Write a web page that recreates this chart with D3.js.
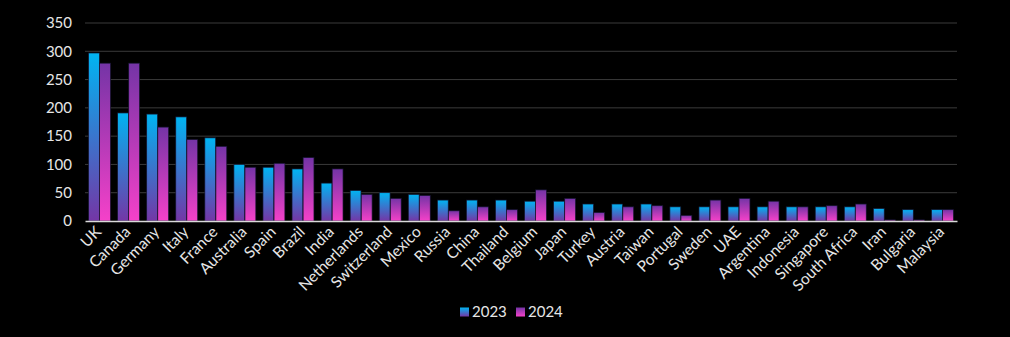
<!DOCTYPE html>
<html>
<head>
<meta charset="utf-8">
<script src="https://cdn.jsdelivr.net/npm/d3@7"></script>
<style>
  body { margin: 0; background: #000; }
  svg { display: block; }
</style>
</head>
<body>
<svg id="chart" width="1010" height="337"></svg>
<script>
const countries = ["UK", "Canada", "Germany", "Italy", "France", "Australia", "Spain", "Brazil", "India",
  "Netherlands", "Switzerland", "Mexico", "Russia", "China", "Thailand", "Belgium", "Japan", "Turkey",
  "Austria", "Taiwan", "Portugal", "Sweden", "UAE", "Argentina", "Indonesia", "Singapore", "South Africa",
  "Iran", "Bulgaria", "Malaysia"];
const values2023 = [297, 191, 189, 184, 147, 100, 95, 92, 67, 54, 50, 47, 37, 37, 37, 35, 35, 30,
  30, 30, 25, 25, 25, 25, 25, 25, 25, 22, 20, 20];
const values2024 = [279, 279, 166, 144, 132, 95, 102, 112, 92, 47, 40, 45, 18, 25, 20, 55, 40, 15,
  25, 27, 10, 37, 40, 35, 25, 27, 30, 2, 2, 20];
const seriesNames = ["2023", "2024"];
const yTicks = [0, 50, 100, 150, 200, 250, 300, 350];

const svg = d3.select("#chart");
const font = "Lato, 'DejaVu Sans', sans-serif";

// plot area
const margin = { top: 23, right: 53, bottom: 116, left: 85 };
const width = +svg.attr("width");
const height = +svg.attr("height");
const innerWidth = width - margin.left - margin.right;
const innerHeight = height - margin.top - margin.bottom;

// gradients for the two series
const defs = svg.append("defs");
const gradStops = [["#00b4f2", "#7436a6"], ["#7434a6", "#f541c9"]];
gradStops.forEach((c, i) => {
  const gr = defs.append("linearGradient")
    .attr("id", "grad" + i)
    .attr("x1", 0).attr("y1", 0).attr("x2", 0).attr("y2", 1);
  gr.append("stop").attr("offset", "0%").attr("stop-color", c[0]);
  gr.append("stop").attr("offset", "100%").attr("stop-color", c[1]);
});

const g = svg.append("g").attr("transform", `translate(${margin.left},${margin.top})`);

const x = d3.scaleBand().domain(countries).range([0, innerWidth]).paddingInner(0.23).paddingOuter(0.115);
const xSub = d3.scaleBand().domain(seriesNames).range([0, x.bandwidth()]).padding(0.02);
const y = d3.scaleLinear().domain([0, 350]).range([innerHeight, 0]);

// gridlines
g.append("g")
  .selectAll("line")
  .data(yTicks.filter(d => d > 0))
  .join("line")
  .attr("x1", 0).attr("x2", innerWidth)
  .attr("y1", d => y(d)).attr("y2", d => y(d))
  .attr("stroke", "#3a3a3a").attr("stroke-width", 1);

// y axis labels
const yAxis = g.append("g")
  .call(d3.axisLeft(y).tickValues(yTicks).tickSize(0).tickPadding(13));
yAxis.select(".domain").remove();
yAxis.selectAll("text")
  .attr("fill", "#e6e6e6")
  .attr("font-family", font)
  .attr("font-size", "15px");

// bars
const rows = countries.map((c, i) => ({ c, vals: [values2023[i], values2024[i]] }));
const groups = g.selectAll(".grp")
  .data(rows)
  .join("g")
  .attr("class", "grp")
  .attr("transform", d => `translate(${x(d.c)},0)`);

groups.selectAll("rect")
  .data(d => d.vals.map((v, i) => ({ k: seriesNames[i], v, i })))
  .join("rect")
  .attr("x", d => xSub(d.k))
  .attr("width", xSub.bandwidth())
  .attr("y", d => y(d.v))
  .attr("height", d => innerHeight - y(d.v))
  .attr("fill", d => `url(#grad${d.i})`)
  .attr("stroke", "#14142e")
  .attr("stroke-width", 0.7);

// x axis
const xAxis = g.append("g")
  .attr("transform", `translate(0,${innerHeight})`)
  .call(d3.axisBottom(x).tickSize(0));
xAxis.select(".domain").attr("stroke", "#d9d9d9").attr("stroke-width", 1.5);
xAxis.selectAll("text")
  .attr("x", 0)
  .attr("y", 0)
  .attr("dy", "0.35em")
  .attr("fill", "#e6e6e6")
  .attr("font-family", font)
  .attr("font-size", "15.5px")
  .attr("text-anchor", "end")
  .attr("transform", "translate(-1,8) rotate(-45)");

// legend
const legend = svg.append("g").attr("transform", "translate(460,312)");
seriesNames.forEach((s, i) => {
  const lg = legend.append("g").attr("transform", `translate(${i * 56},0)`);
  lg.append("rect")
    .attr("x", 0).attr("y", -4.5)
    .attr("width", 9).attr("height", 9)
    .attr("fill", `url(#grad${i})`);
  lg.append("text")
    .attr("x", 12).attr("y", 0)
    .attr("dy", "0.35em")
    .attr("fill", "#e6e6e6")
    .attr("font-family", font)
    .attr("font-size", "15px")
    .text(s);
});
</script>
</body>
</html>
